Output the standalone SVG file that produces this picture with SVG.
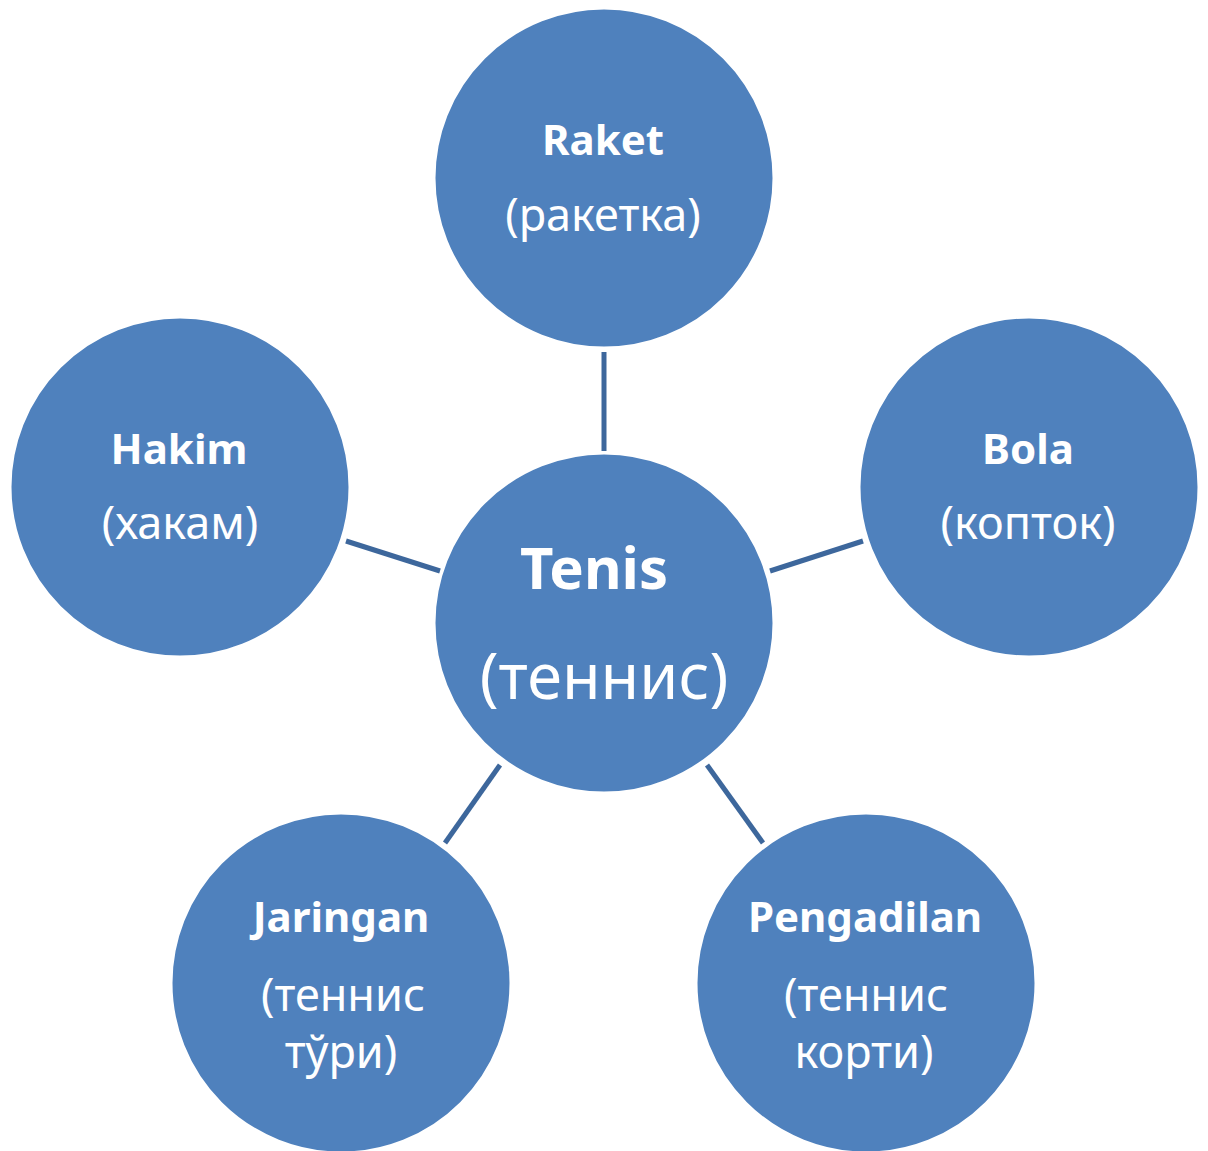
<svg xmlns="http://www.w3.org/2000/svg" width="1208" height="1151" viewBox="0 0 1208 1151">
  <style>
    .node { fill: #4F81BD; stroke: #ffffff; stroke-width: 3; }
    .lbl { fill: #ffffff; font-family: "Noto Sans", "Open Sans", "DejaVu Sans", sans-serif; text-anchor: middle; }
    .b { font-weight: bold; font-size: 42px; }
    .r { font-weight: normal; font-size: 45px; }
    .link { stroke: #3D679C; stroke-width: 5; fill: none; }
  </style>
  <rect width="1208" height="1151" fill="#ffffff"/>

  <!-- spokes from the hub to each satellite -->
  <g id="connectors">
    <line class="link" x1="604" y1="352" x2="604" y2="451"/>
    <line class="link" x1="346" y1="541" x2="440" y2="571"/>
    <line class="link" x1="770" y1="571" x2="863" y2="541"/>
    <line class="link" x1="500" y1="765" x2="445" y2="843"/>
    <line class="link" x1="707" y1="765" x2="763" y2="843"/>
  </g>

  <g id="raket">
    <circle class="node" cx="604" cy="178" r="170"/>
    <text class="lbl b" x="603" y="155">Raket</text>
    <text class="lbl r" x="603" y="231">(ракетка)</text>
  </g>

  <g id="hakim">
    <circle class="node" cx="180" cy="487" r="170"/>
    <text class="lbl b" x="179" y="464">Hakim</text>
    <text class="lbl r" x="180" y="539">(хакам)</text>
  </g>

  <g id="bola">
    <circle class="node" cx="1029" cy="487" r="170"/>
    <text class="lbl b" x="1028" y="464">Bola</text>
    <text class="lbl r" x="1028" y="539">(копток)</text>
  </g>

  <g id="tenis">
    <circle class="node" cx="604" cy="623" r="170"/>
    <text class="lbl" x="594" y="589" font-weight="bold" font-size="58">Tenis</text>
    <text class="lbl" x="604" y="699" font-size="63">(теннис)</text>
  </g>

  <g id="jaringan">
    <circle class="node" cx="341" cy="983" r="170"/>
    <text class="lbl b" x="341" y="932">Jaringan</text>
    <text class="lbl r" x="343" y="1011">(теннис</text>
    <text class="lbl r" x="341" y="1068">тўри)</text>
  </g>

  <g id="pengadilan">
    <circle class="node" cx="866" cy="983" r="170"/>
    <text class="lbl b" x="865" y="932">Pengadilan</text>
    <text class="lbl r" x="866" y="1011">(теннис</text>
    <text class="lbl r" x="864" y="1068">корти)</text>
  </g>
</svg>
